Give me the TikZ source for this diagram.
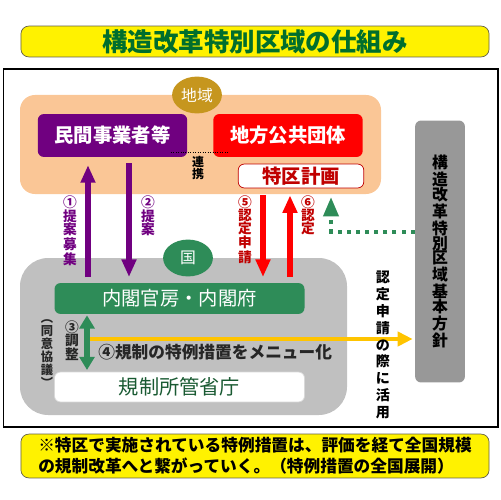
\documentclass[tikz,border=0pt]{standalone}
\usepackage{fontspec}
\setmainfont{Noto Sans CJK JP}
\usetikzlibrary{arrows.meta,shapes.geometric}

\definecolor{titlegreen}{RGB}{0,110,45}
\definecolor{peach}{RGB}{250,198,150}
\definecolor{gold}{RGB}{198,150,30}
\definecolor{purp}{RGB}{112,0,128}
\definecolor{darkred}{RGB}{192,0,0}
\definecolor{kunigreen}{RGB}{46,140,88}
\definecolor{kunigray}{RGB}{192,192,192}
\definecolor{hougray}{RGB}{152,152,152}
\definecolor{menuyel}{RGB}{255,196,0}
\definecolor{kiseigreen}{RGB}{25,90,50}

\def\pxu{0.5669pt}

\tikzset{
  banner/.style={draw=black!70!yellow, fill=yellow, rounded corners=4.5pt, minimum width=470*\pxu, inner sep=0pt},
  orgbox/.style={rounded corners=3.4pt, inner sep=0pt, text=white, font=\bfseries\fontsize{11}{12}\selectfont},
  bubble/.style={ellipse, minimum width=50*\pxu, minimum height=37*\pxu, inner sep=0pt, text=white, font=\fontsize{9}{10}\selectfont},
  vlabel/.style={inner sep=0pt, align=center, anchor=north, font=\bfseries\fontsize{7.8}{7.4}\selectfont},
  fat/.style={line width=3.4pt, -{Triangle[width=8pt,length=10pt]}},
}

\begin{document}
\begin{tikzpicture}[x=0.02cm,y=-0.02cm]
\useasboundingbox (0,0) rectangle (500,500);
% title and frame
\node[banner, minimum height=31*\pxu, text=titlegreen, font=\bfseries\fontsize{14.5}{16}\selectfont] (title) at (255,41.5) {構造改革特別区域の仕組み};
\draw[line width=0.6pt] (3.5,69) rectangle (498,427);

% chiiki
\fill[peach, rounded corners=8.5pt] (20,95) rectangle (381,194);
\node[bubble, fill=gold] (chiiki) at (197,95) {地域};
\node[orgbox, fill=purp, minimum width=150*\pxu, minimum height=43*\pxu] (minkan) at (112.5,135.5) {民間事業者等};
\node[orgbox, fill=red, minimum width=150*\pxu, minimum height=43*\pxu] (chiho) at (288,135.5) {地方公共団体};
\node[orgbox, fill=white, draw=darkred, text=darkred, minimum width=126*\pxu, minimum height=24*\pxu] (tokku) at (301,176) {特区計画};
\draw[densely dotted] ([yshift=2.8pt,xshift=-9.6pt]minkan.south east) -- ([yshift=2.8pt,xshift=8.5pt]chiho.south west);
\node[vlabel, anchor=center, font=\bfseries\fontsize{6.8}{6.8}\selectfont] (renkei) at (198,168) {連\\携};

% kuni
\fill[kunigray, rounded corners=16pt] (20,258) rectangle (347,415);
\node[bubble, fill=kunigreen] (kuni) at (188,258) {国};
\node[orgbox, fill=kunigreen, font=\fontsize{11}{12}\selectfont, minimum width=251*\pxu, minimum height=31*\pxu] (naikaku) at (179.5,298.5) {内閣官房・内閣府};
\node[orgbox, fill=white, draw=gray!30, text=kiseigreen, font=\fontsize{11.5}{12}\selectfont, minimum width=251*\pxu, minimum height=30*\pxu] (kisei) at (179.5,387) {規制所管省庁};

% houshin
\node[orgbox, fill=hougray, text=black, align=center, font=\bfseries\fontsize{9}{8.5}\selectfont, minimum width=50*\pxu, minimum height=263*\pxu] (houshin) at (440,251.5) {構\\造\\改\\革\\特\\別\\区\\域\\基\\本\\方\\針};

% arrows
\coordinate (a1) at (88,277);
\coordinate (a2) at (129,277);
\coordinate (a5) at (263,277);
\coordinate (a6) at (290,277);
\draw[fat, purp, shorten >=4.5pt] (a1) -- (a1 |- minkan.south);
\draw[fat, purp, shorten <=3.4pt] (a2 |- minkan.south) -- (a2);
\draw[fat, red, shorten <=4pt] (a5 |- tokku.south) -- (a5);
\draw[fat, red, shorten >=4pt] (a6) -- (a6 |- tokku.south);

\coordinate (a7) at (331,232);
\draw[kunigreen, line width=2.3pt, dash pattern=on 2.3pt off 2.9pt, shorten >=5pt, -{Triangle[width=8.5pt,length=11pt]}] (houshin.west |- a7) -- (a7) -- (a7 |- tokku.south);

\coordinate (a4) at (90,339);
\draw[menuyel, line width=2.3pt, shorten >=1.2pt, -{Triangle[width=8pt,length=8.5pt]}] (a4) -- (a4 -| houshin.west);

\coordinate (a3) at (87,0);
\draw[kunigreen, line width=3pt, shorten <=0.6pt, shorten >=1pt, {Triangle[width=8.5pt,length=7.5pt]}-{Triangle[width=8.5pt,length=7.5pt]}] (a3 |- naikaku.south) -- (a3 |- kisei.north);

% labels
\node[vlabel, text=purp] (l1) at (70,195) {①\\提\\案\\募\\集};
\node[vlabel, text=purp] (l2) at (148,195) {②\\提\\案};
\node[vlabel, text=darkred] (l5) at (245,195) {⑤\\認\\定\\申\\請};
\node[vlabel, text=darkred] (l6) at (308,195) {⑥\\認\\定};
\node[vlabel, text=black!85] (l3) at (72,320) {③\\調\\整};
\node[vlabel, text=black!85, font=\bfseries\fontsize{7}{7.4}\selectfont] (dooi) at (47,319) {︵\\同\\意\\協\\議\\︶};
\node[inner sep=0pt, anchor=west, text=black!85, font=\bfseries\fontsize{9.5}{10}\selectfont] (menu) at (98,352) {④規制の特例措置をメニュー化};
\node[vlabel, anchor=center, font=\bfseries\fontsize{8}{9.6}\selectfont] (katsuyo) at (383,345) {認\\定\\申\\請\\の\\際\\に\\活\\用};

% note
\node[banner, minimum height=44*\pxu, align=left, font=\bfseries\fontsize{9.5}{12}\selectfont] (note) at (255,456) {※特区で実施されている特例措置は、評価を経て全国規模\\の規制改革へと繋がっていく。（特例措置の全国展開）};
\end{tikzpicture}
\end{document}
